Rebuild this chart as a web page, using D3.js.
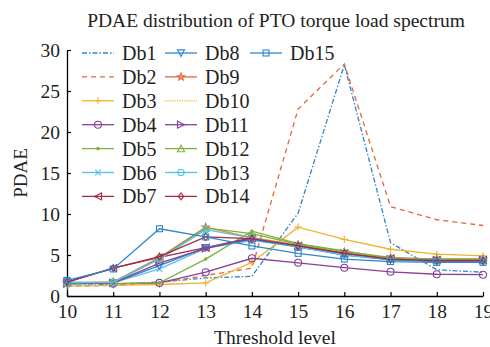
<!DOCTYPE html>
<html>
<head>
<meta charset="utf-8">
<script src="https://cdn.jsdelivr.net/npm/d3@7"></script>
<style>
  html, body { margin: 0; padding: 0; background: #fff; }
  svg text { font-family: "Liberation Serif", "Times New Roman", serif; fill: #222; }
</style>
</head>
<body>
<svg id="chart" width="490" height="347"></svg>
<script>
// Threshold levels (x axis)
const levels = [10, 11, 12, 13, 14, 15, 16, 17, 18, 19];
const xTicks = [10, 11, 12, 13, 14, 15, 16, 17, 18, 19];
const yTicks = [0, 5, 10, 15, 20, 25, 30];

// PDAE per threshold level, one array per data block
const Db1  = [1.5, 1.4, 1.7, 2.2, 2.4, 10.1, 28.2, 6.5, 3.2, 2.9];
const Db2  = [1.2, 1.3, 1.6, 2.5, 3.4, 22.8, 28.3, 10.9, 9.3, 8.6];
const Db3  = [1.2, 1.3, 1.4, 1.6, 4.1, 8.4, 6.9, 5.7, 5.1, 4.9];
const Db4  = [1.6, 1.5, 1.6, 2.9, 4.6, 4.05, 3.45, 2.95, 2.65, 2.6];
const Db5  = [1.6, 1.5, 1.6, 4.5, 7.9, 6.4, 5.5, 4.6, 4.5, 4.5];
const Db6  = [1.4, 1.6, 3.3, 5.8, 6.8, 6.0, 5.1, 4.4, 4.3, 4.3];
const Db7  = [1.7, 3.4, 4.7, 5.9, 7.1, 6.1, 5.2, 4.6, 4.4, 4.4];
const Db8  = [1.7, 1.6, 3.7, 5.9, 6.9, 6.0, 5.0, 4.4, 4.2, 4.2];
const Db9  = [1.6, 1.7, 4.7, 8.4, 7.1, 6.2, 5.3, 4.6, 4.5, 4.5];
const Db10 = [1.5, 1.6, 4.5, 8.3, 7.2, 6.2, 5.3, 4.6, 4.5, 4.5];
const Db11 = [1.5, 1.6, 4.0, 5.8, 7.0, 6.1, 5.2, 4.5, 4.4, 4.4];
const Db12 = [1.6, 1.7, 4.6, 8.3, 7.6, 6.3, 5.4, 4.7, 4.5, 4.5];
const Db13 = [1.6, 1.7, 4.5, 8.1, 7.1, 6.0, 5.0, 4.5, 4.3, 4.3];
const Db14 = [1.7, 3.4, 4.8, 7.2, 7.0, 6.1, 5.2, 4.5, 4.3, 4.3];
const Db15 = [1.9, 3.3, 8.2, 7.2, 6.1, 5.2, 4.5, 4.2, 4.1, 4.1];

const names = ["Db1","Db2","Db3","Db4","Db5","Db6","Db7","Db8","Db9","Db10","Db11","Db12","Db13","Db14","Db15"];
const values = [Db1,Db2,Db3,Db4,Db5,Db6,Db7,Db8,Db9,Db10,Db11,Db12,Db13,Db14,Db15];

// Styling per series
const palette = ["#2f86cc", "#e2683a", "#efb42e", "#874196", "#7db13f", "#56c0ec", "#a52a45"];
const dashes = ["5,2,1.5,2", "5,4", null, null, null, null, null, null, null, "1.2,1.2", null, null, null, null, null];
const markers = [null, null, "plus", "circle", "dot", "cross", "triL", "triD", "star", null, "triR", "triU", "hex", "diamond", "square"];

const svg = d3.select("#chart");
const x = d3.scaleLinear().domain([10, 19]).range([67, 483]);
const y = d3.scaleLinear().domain([0, 30]).range([296, 50]);

// Title
svg.append("text").attr("x", 276).attr("y", 27).attr("text-anchor", "middle")
  .style("font-size", "19.5px").text("PDAE distribution of PTO torque load spectrum");

// Axes with inward ticks
const xAxis = svg.append("g").attr("transform", `translate(0,${y(0)})`)
  .call(d3.axisBottom(x).tickValues(xTicks).tickFormat(d3.format("d")).tickSizeInner(-4).tickSizeOuter(0));
const yAxis = svg.append("g").attr("transform", `translate(${x(10)},0)`)
  .call(d3.axisLeft(y).tickValues(yTicks).tickSizeInner(-4).tickSizeOuter(0));
[xAxis, yAxis].forEach(g => {
  g.select(".domain").attr("stroke", "#000").attr("stroke-width", 1.3);
  g.selectAll(".tick line").attr("stroke", "#000").attr("stroke-width", 1.2);
  g.selectAll("text").style("font-size", "19.5px").attr("fill", "#222");
});
xAxis.selectAll("text").attr("y", 8);
yAxis.selectAll("text").attr("x", -7).attr("dy", "0.32em");

svg.append("text").attr("x", 275).attr("y", 344).attr("text-anchor", "middle")
  .style("font-size", "19.5px").text("Threshold level");
svg.append("text").attr("transform", `translate(27,${y(15)}) rotate(-90)`)
  .attr("text-anchor", "middle").style("font-size", "19px").text("PDAE");

// Marker drawing
function drawMarker(g, type, cx, cy, color) {
  const s = 3.5;
  const m = g.append("g").attr("transform", `translate(${cx},${cy})`);
  const poly = pts => m.append("polygon").attr("points", pts.map(p => p.join(",")).join(" "));
  let el;
  switch (type) {
    case "plus":
      el = m.append("path").attr("d", `M${-s},0H${s}M0,${-s}V${s}`); break;
    case "cross":
      el = m.append("path").attr("d", `M${-s*0.8},${-s*0.8}L${s*0.8},${s*0.8}M${-s*0.8},${s*0.8}L${s*0.8},${-s*0.8}`); break;
    case "circle":
      el = m.append("circle").attr("r", s); break;
    case "dot":
      m.append("circle").attr("r", 1.8).attr("fill", color);
      return;
    case "triL": el = poly([[-s,0],[s,-s],[s,s]]); break;
    case "triR": el = poly([[s,0],[-s,-s],[-s,s]]); break;
    case "triD": el = poly([[0,s],[-s,-s*0.9],[s,-s*0.9]]); break;
    case "triU": el = poly([[0,-s],[-s,s*0.9],[s,s*0.9]]); break;
    case "square": el = m.append("rect").attr("x", -s*0.85).attr("y", -s*0.85).attr("width", s*1.7).attr("height", s*1.7); break;
    case "diamond": el = poly([[0,-s],[s*0.75,0],[0,s],[-s*0.75,0]]); break;
    case "hex": el = poly(d3.range(6).map(i => [s*Math.cos(i*Math.PI/3), s*Math.sin(i*Math.PI/3)])); break;
    case "star": {
      const pts = d3.range(10).map(i => {
        const r = i % 2 ? s*0.45 : s*1.1, a = -Math.PI/2 + i*Math.PI/5;
        return [r*Math.cos(a), r*Math.sin(a)];
      });
      el = poly(pts); break;
    }
    default: return;
  }
  el.attr("stroke", color).attr("stroke-width", 1.1).attr("fill", "none");
}

const line = d3.line().x((d, i) => x(levels[i])).y(d => y(d));
const plot = svg.append("g");

values.forEach((vals, k) => {
  const color = palette[k % 7];
  const g = plot.append("g");
  g.append("path").datum(vals).attr("d", line)
    .attr("fill", "none").attr("stroke", color).attr("stroke-width", 1.3)
    .attr("stroke-dasharray", dashes[k]);
  if (markers[k]) vals.forEach((v, i) => drawMarker(g, markers[k], x(levels[i]), y(v), color));
});

// Legend: three columns
const colX = [82, 165, 250];
const rowY0 = 53, rowH = 23.9;
names.forEach((name, k) => {
  const col = Math.floor(k / 7), row = k % 7;
  const lx = colX[col], ly = rowY0 + row * rowH;
  const color = palette[k % 7];
  const g = svg.append("g");
  g.append("line").attr("x1", lx).attr("x2", lx + 32).attr("y1", ly).attr("y2", ly)
    .attr("stroke", color).attr("stroke-width", 1.3).attr("stroke-dasharray", dashes[k]);
  if (markers[k]) drawMarker(g, markers[k], lx + 16, ly, color);
  g.append("text").attr("x", lx + 40).attr("y", ly).attr("dy", "0.35em")
    .style("font-size", "20px").text(name);
});
</script>
</body>
</html>
